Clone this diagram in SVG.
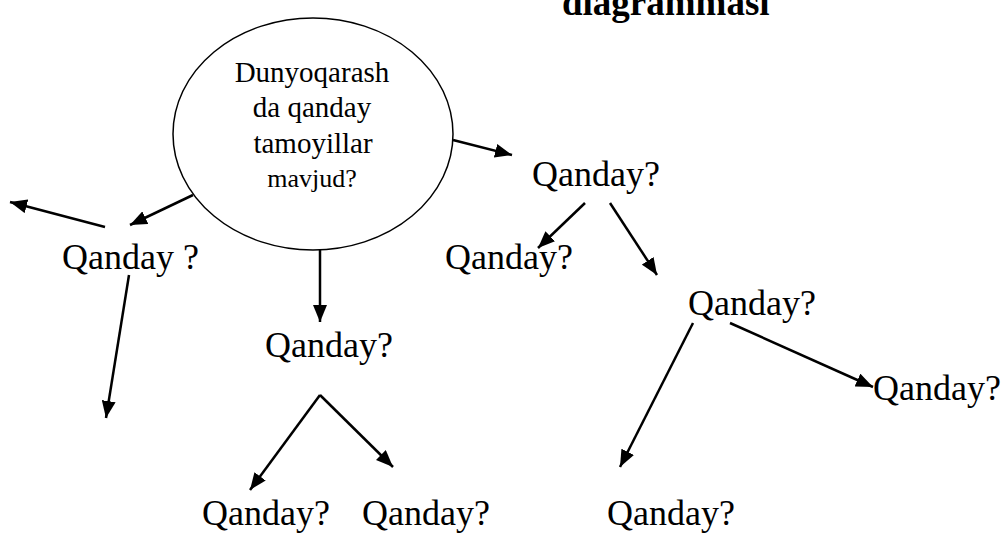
<svg xmlns="http://www.w3.org/2000/svg" width="1008" height="535" viewBox="0 0 1008 535">
<style>
.t{font-family:"Liberation Serif","Times New Roman",serif;fill:#000}
.q{font-size:36px}
.e{font-size:29px}
.title{font-size:37px;font-weight:bold}
.c line{stroke:#000;stroke-width:2.5;marker-end:url(#ah)}
</style>
<defs>
<marker id="ah" markerUnits="userSpaceOnUse" markerWidth="18" markerHeight="14" refX="17" refY="7" orient="auto"><path d="M0,0 L17,7 L0,14 z" fill="#000"/></marker>
</defs>
<rect width="1008" height="535" fill="#fff"/>
<g id="title"><text class="t title" x="562" y="15">diagrammasi</text></g>
<g id="center">
<ellipse cx="313" cy="134" rx="140" ry="116" fill="none" stroke="#000" stroke-width="1.5"/>
<text class="t e" x="312" y="82" text-anchor="middle">Dunyoqarash</text>
<text class="t e" x="312" y="117" text-anchor="middle">da qanday</text>
<text class="t e" x="313" y="153" text-anchor="middle">tamoyillar</text>
<text class="t" style="font-size:26px" x="312" y="187" text-anchor="middle">mavjud?</text>
</g>
<g id="n1"><text class="t q" x="62" y="269">Qanday ?</text></g>
<g id="n2"><text class="t q" x="265" y="357">Qanday?</text></g>
<g id="n3"><text class="t q" x="202" y="525">Qanday?</text></g>
<g id="n4"><text class="t q" x="362" y="525">Qanday?</text></g>
<g id="n5"><text class="t q" x="532" y="186">Qanday?</text></g>
<g id="n6"><text class="t q" x="445" y="269">Qanday?</text></g>
<g id="n7"><text class="t q" x="688" y="315">Qanday?</text></g>
<g id="n8"><text class="t q" x="873" y="400">Qanday?</text></g>
<g id="n9"><text class="t q" x="607" y="525">Qanday?</text></g>
<g id="connectors" class="c">
<line x1="193" y1="195" x2="130" y2="225"/>
<line x1="105" y1="227" x2="10" y2="202"/>
<line x1="129" y1="275" x2="106" y2="418"/>
<line x1="320" y1="250" x2="320" y2="322"/>
<line x1="320" y1="395" x2="250" y2="490"/>
<line x1="320" y1="395" x2="393" y2="467"/>
<line x1="453" y1="140" x2="512" y2="155"/>
<line x1="585" y1="203" x2="538" y2="248"/>
<line x1="610" y1="203" x2="657" y2="275"/>
<line x1="693" y1="323" x2="620" y2="467"/>
<line x1="730" y1="323" x2="873" y2="387"/>
</g>
</svg>
